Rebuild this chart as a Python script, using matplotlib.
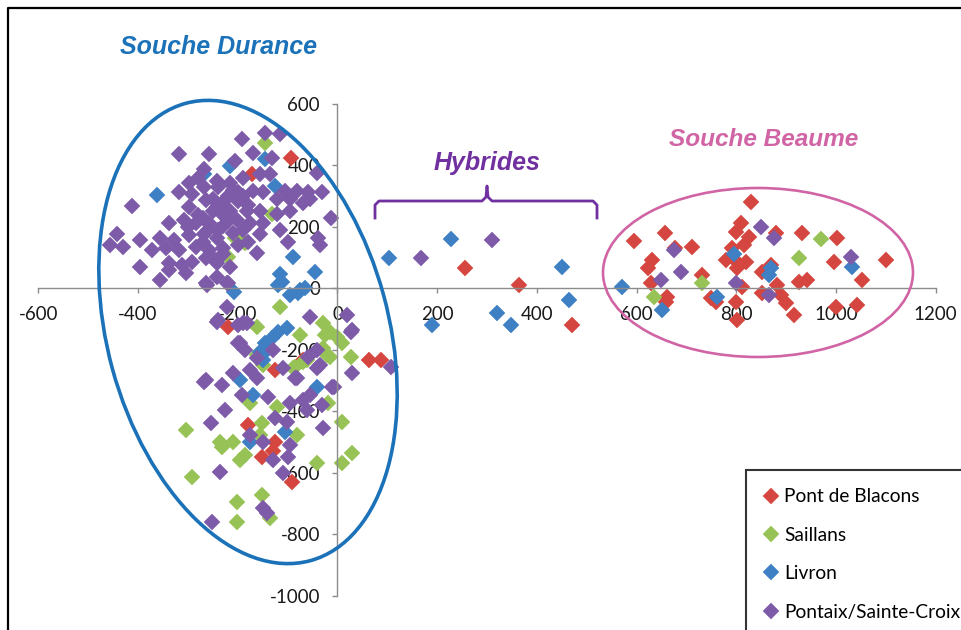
import numpy as np
import matplotlib
matplotlib.use('Agg')
import matplotlib.pyplot as plt
from matplotlib.patches import Ellipse

plt.rcParams['font.family'] = ['Lato', 'DejaVu Sans']
plt.rcParams['axes.unicode_minus'] = False

# --- data ---
series_names = ['Pont de Blacons', 'Saillans', 'Livron', 'Pontaix/Sainte-Croix']
series_colors = ['#D4463F', '#97C255', '#3F80C5', '#7E5BA8']

blacons = [(-94, 425), (-172, 373), (64, -234), (88, -234), (255, 65), (365, 10), (471, -120),
           (-180, -445), (-126, -500), (-130, -530), (-152, -548), (-92, -630), (-220, -127),
           (-126, -266), (-70, -234),
           (830, 282), (595, 153), (657, 179), (711, 133), (677, 130), (631, 91), (623, 65),
           (629, 16), (661, -29), (659, -45), (731, 42), (750, -32), (760, -45), (810, 214),
           (800, 182), (826, 166), (816, 140), (792, 130), (780, 91), (802, 84), (820, 84),
           (802, 65), (812, 3), (800, -45), (802, -104), (852, 52), (870, 75), (880, 179),
           (852, -16), (882, 10), (890, -23), (900, -49), (916, -88), (926, 19), (942, 26),
           (932, 179), (1002, 162), (996, 84), (1052, 26), (1042, -55), (1100, 91), (1000, -62)]

saillans = [(970, 159), (926, 100), (731, 16), (635, -29),
            (-146, 471), (-186, 146), (-132, 243), (-206, 162), (-220, 101),
            (-116, -62), (-30, -114), (-16, -143), (0, -159), (10, -178), (-26, -153),
            (-162, -127), (-76, -153), (-30, -195), (-16, -224), (-62, -234), (-90, -260),
            (-150, -250), (-162, -217), (-20, -373), (-122, -386), (-176, -373), (28, -224),
            (-22, -217), (-70, -240), (-86, -256),
            (-303, -461), (-236, -500), (-210, -500), (-232, -516), (-196, -558), (-186, -542),
            (-152, -438), (-156, -477), (-82, -477), (-42, -568), (10, -435), (10, -568),
            (30, -535), (-291, -613), (-202, -694), (-152, -672), (-202, -759), (-136, -746)]

livron = [(104, 97), (228, 159), (451, 68), (465, -39), (319, -81), (349, -120), (190, -120),
          (571, 3), (651, -71), (762, -29), (796, 110), (870, 65), (866, 42), (1032, 68),
          (-363, 302), (-267, 373), (-216, 399), (-146, 422), (-126, 334), (-226, 260),
          (-90, 101), (-46, 52), (-116, 45), (-112, 19), (-120, 10), (-208, -13), (-96, -23),
          (-80, -16), (-76, -6), (-66, 0), (-102, -130), (-120, -143), (-132, -162),
          (-146, -178), (-142, -201), (-156, -208), (-150, -234), (-196, -299), (-42, -321),
          (-170, -347), (-106, -467), (-176, -500)]

pontaix = [(-146, 506), (-116, 503), (-192, 487), (-317, 438), (-257, 438), (-170, 441),
           (-132, 425), (-206, 415), (-42, 376), (-190, 360), (-156, 373), (-136, 373),
           (-267, 389), (-297, 344), (-242, 350), (-216, 341), (-267, 328), (-317, 312),
           (-291, 308), (-200, 312), (-170, 318), (-150, 312), (-106, 318), (-82, 318),
           (-60, 312), (-32, 312), (-122, 292), (-96, 292), (-70, 279), (-56, 292),
           (-413, 269), (-297, 263), (-263, 286), (-242, 263), (-216, 253), (-182, 253),
           (-156, 253), (-122, 243), (-96, 253), (-12, 230), (-337, 211), (-307, 221),
           (-283, 211), (-257, 211), (-230, 204), (-202, 221), (-176, 211), (-150, 211),
           (-116, 188), (-443, 178), (-397, 156), (-357, 165), (-327, 156), (-297, 172),
           (-267, 178), (-242, 165), (-156, 178), (-100, 149), (-40, 165), (-457, 140),
           (-431, 133), (-373, 123), (-343, 130), (-317, 123), (-283, 133), (-257, 123),
           (-230, 130), (-162, 114), (-36, 140), (-337, 81), (-311, 75), (-291, 84),
           (-263, 97), (-242, 81), (-216, 68), (-397, 68), (-357, 26), (-303, 49),
           (-263, 16), (-222, 16), (-242, 36), (-337, 58),
           (-280, 360), (-240, 330), (-220, 300), (-200, 285), (-180, 270), (-250, 290),
           (-230, 240), (-260, 190), (-240, 190), (-210, 180), (-190, 190), (-280, 240),
           (-300, 200), (-270, 150), (-250, 100), (-230, 110), (-200, 140), (-180, 150),
           (-230, 280), (-210, 320), (-190, 300), (-250, 250), (-270, 230), (-220, 220),
           (-222, -62), (-240, -104), (-200, -120), (-182, -114), (-56, -94), (20, -88),
           (28, -143), (-196, -178), (-186, -201), (-162, -227), (-130, -201), (-110, -260),
           (-82, -292), (-60, -224), (-42, -201), (-36, -250), (30, -276), (-210, -276),
           (-176, -266), (-162, -292), (-267, -305), (-232, -315), (-192, -347), (-140, -354),
           (-96, -373), (-70, -363), (-56, -347), (-6, -321), (-62, -396), (-32, -380),
           (-226, -396), (-253, -438), (-126, -422), (-102, -435), (-176, -477), (-150, -500),
           (-96, -509), (-30, -454), (-130, -558), (-100, -548), (-236, -597), (-110, -600),
           (-150, -714), (-142, -730), (-251, -759), (108, -256), (-261, 10), (-220, 16),
           (-242, -110), (-190, -114), (-200, -178), (-263, -299), (-42, -260), (-86, -292),
           (-10, -321), (30, -136),
           (168, 100), (309, 156),
           (850, 198), (876, 162), (675, 123), (689, 52), (649, 26), (800, 16), (866, -23),
           (1030, 101)]

x_ticks = list(range(-600, 1201, 200))
y_ticks = list(range(-1000, 601, 200))

W, H = 961, 630
fig = plt.figure(figsize=(W / 100, H / 100), dpi=100)

# main chart, axes fill the whole canvas, limits chosen so the axis lines sit where they do
ax = fig.add_axes([0, 0, 1, 1])
ax.set_xlim(-677, 1250.8)
ax.set_ylim(-1111.2, 937.6)
ax.patch.set_visible(False)

for name, col, pts in zip(series_names, series_colors, [blacons, saillans, livron, pontaix]):
    xs, ys = zip(*pts)
    ax.plot(xs, ys, 'D', ms=7.9, color=col, mec=col, mew=0.3, ls='none', label=name)

for s in ['top', 'right']:
    ax.spines[s].set_visible(False)
ax.spines['left'].set_position(('data', 0))
ax.spines['bottom'].set_position(('data', 0))
ax.spines['left'].set_bounds(-1000, 600)
ax.spines['bottom'].set_bounds(-600, 1200)
for s in ['left', 'bottom']:
    ax.spines[s].set_color('#8C8C8C')
    ax.spines[s].set_linewidth(1.0)
ax.set_xticks(x_ticks)
ax.set_yticks(y_ticks)
ax.tick_params(direction='out', length=3.6, width=1, color='#8C8C8C',
               labelsize=13.5, labelcolor='#1A1A1A')
ax.tick_params(axis='x', pad=9)
ax.tick_params(axis='y', pad=9)

leg = fig.legend(loc='upper left', bbox_to_anchor=(746 / W, 1 - 470 / H), borderaxespad=0,
                 fontsize=13.8, frameon=True, fancybox=False, edgecolor='black',
                 borderpad=0.95, handlelength=0.75, handletextpad=0.3, labelspacing=1.12)
leg.get_frame().set_linewidth(1.5)

# overlay in pixel coordinates for the drawn shapes and labels
ov = fig.add_axes([0, 0, 1, 1])
ov.set_xlim(0, W)
ov.set_ylim(H, 0)
ov.axis('off')
ov.patch.set_visible(False)

ov.add_patch(Ellipse((248, 332), 281, 474, angle=-15.25, fill=False,
                     edgecolor='#1B72B8', linewidth=2.6))
ov.add_patch(Ellipse((758, 272.5), 310, 169, fill=False,
                     edgecolor='#D064A4', linewidth=1.9))
ov.plot([375, 375, 379, 482, 486, 487, 488, 492, 593, 597, 597],
        [218, 205, 201, 201, 197, 186, 197, 201, 201, 205, 218],
        color='#7030A0', linewidth=2.0, solid_joinstyle='round')

ov.text(219, 47, 'Souche Durance', ha='center', va='center', fontsize=18,
        fontweight='bold', fontstyle='italic', color='#1B72B8', family='Liberation Sans')
ov.text(487, 163, 'Hybrides', ha='center', va='center', fontsize=18,
        fontweight='bold', fontstyle='italic', color='#7030A0', family='Liberation Sans')
ov.text(764, 140, 'Souche Beaume', ha='center', va='center', fontsize=17.6,
        fontweight='bold', fontstyle='italic', color='#D064A4', family='Liberation Sans')

# outer frame of the original slide picture (only top and left visible)
ov.plot([8, 8, W], [H, 8, 8], color='black', linewidth=1.6, clip_on=False)

fig.savefig('out.png', dpi=100)
